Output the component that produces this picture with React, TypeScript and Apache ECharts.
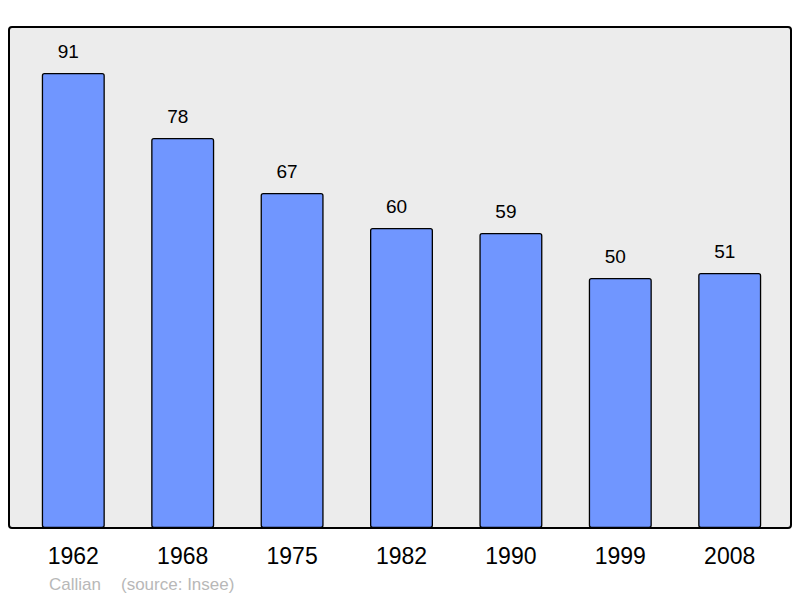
import React, { useEffect, useRef } from "react";
import * as echarts from "echarts";

const years = ["1962", "1968", "1975", "1982", "1990", "1999", "2008"];
const population = [91, 78, 67, 60, 59, 50, 51];
const townName = "Callian";
const sourceText = "(source: Insee)";

const FONT = "'Liberation Sans', Arial, sans-serif";

export default function App() {
  const ref = useRef<HTMLDivElement>(null);
  useEffect(() => {
    if (!ref.current) return;
    const chart = echarts.init(ref.current, undefined, { renderer: "svg" });
    chart.setOption({
      animation: false,
      backgroundColor: "#ffffff",
      textStyle: { fontFamily: FONT },
      grid: { left: 18.6, right: 15.6, top: 28, bottom: 70, containLabel: false },
      graphic: [
        {
          type: "rect",
          z: -10,
          shape: { x: 9, y: 27, width: 782, height: 501, r: 3 },
          style: { fill: "#ececec", stroke: "#000000", lineWidth: 2 },
        },
        {
          type: "text",
          x: 49,
          y: 584,
          style: { text: townName, fill: "#b8b8b8", font: `17px ${FONT}`, verticalAlign: "middle" },
        },
        {
          type: "text",
          x: 121,
          y: 584,
          style: { text: sourceText, fill: "#b8b8b8", font: `17px ${FONT}`, verticalAlign: "middle" },
        },
      ],
      xAxis: {
        type: "category",
        data: years,
        axisLine: { show: false },
        axisTick: { show: false },
        axisLabel: { color: "#000000", fontSize: 23, fontFamily: FONT, margin: 16 },
      },
      yAxis: {
        type: "value",
        min: 0,
        max: 100,
        show: false,
        splitLine: { show: false },
      },
      series: [
        {
          type: "bar",
          data: population,
          barWidth: 63,
          itemStyle: { color: "#7096ff", borderColor: "#000000", borderWidth: 1.3, borderRadius: 2 },
          label: {
            show: true,
            position: "top",
            distance: 12,
            offset: [-5, 0],
            color: "#000000",
            fontSize: 19,
            fontFamily: FONT,
          },
        },
      ],
    });
    return () => chart.dispose();
  }, []);
  return (
    <div
      ref={ref}
      style={{ position: "fixed", left: 0, top: 0, width: 800, height: 598 }}
    />
  );
}
